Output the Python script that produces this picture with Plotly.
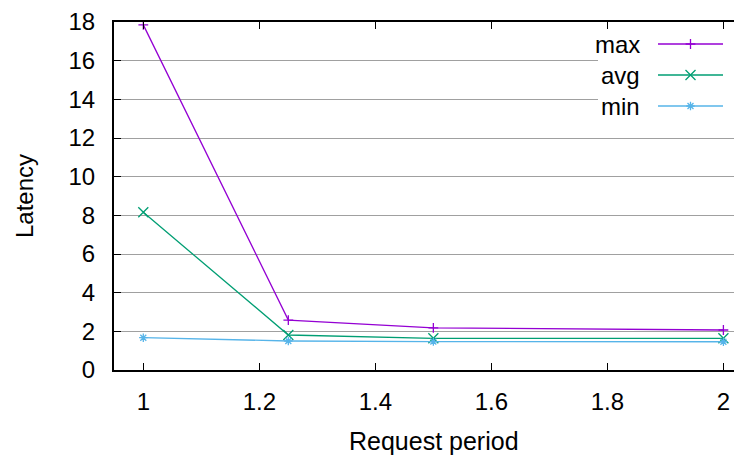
import plotly.graph_objects as go

# ---- data ----
request_period = [1.0, 1.25, 1.5, 2.0]
lat_max = [17.85, 2.58, 2.18, 2.07]
lat_avg = [8.16, 1.81, 1.64, 1.64]
lat_min = [1.67, 1.50, 1.47, 1.46]
series_names = ["max", "avg", "min"]
x_ticks = [1, 1.2, 1.4, 1.6, 1.8, 2]
x_tick_labels = ["1", "1.2", "1.4", "1.6", "1.8", "2"]
y_ticks = [0, 2, 4, 6, 8, 10, 12, 14, 16, 18]

colors = ["#9400D3", "#009E73", "#56B4E9"]
symbols = ["cross-thin-open", "x-thin-open", "asterisk-open"]
msizes = [7, 10, 7]
FONT = "Liberation Sans, Arial, Helvetica, sans-serif"
FS = 24

# page has an 8px body margin: figure pixel = page pixel - 8
OFF = 8
W, H = 742 - OFF, 460 - OFF
L, R, T = 114 - OFF, 0, 22 - OFF
B = H - (370 - OFF)
PW, PH = W - L - R, H - T - B

def px(x):  # page pixel -> plot-area fraction
    return (x - OFF - L) / PW

def py(y):
    return (H - B - (y - OFF)) / PH

fig = go.Figure()
for name, ys, c, s, ms in zip(series_names, [lat_max, lat_avg, lat_min], colors, symbols, msizes):
    fig.add_trace(go.Scatter(
        x=request_period, y=ys, mode="lines+markers", name=name,
        line=dict(color=c, width=1.3),
        marker=dict(symbol=s, size=ms, color=c, line=dict(color=c, width=1.3)),
        showlegend=False, cliponaxis=False,
    ))

# ---- gnuplot-style key (text left, sample right) on an overlay axis ----
box_l, box_r, box_t, box_b = 598, 738, 23, 122
fig.add_trace(go.Scatter(
    x=[px(box_l), px(box_r), px(box_r), px(box_l), px(box_l)],
    y=[py(box_t), py(box_t), py(box_b), py(box_b), py(box_t)],
    fill="toself", fillcolor="white", mode="none",
    xaxis="x2", yaxis="y2", hoverinfo="skip", showlegend=False,
))
row_y = [44, 75, 106]
s_l, s_r, s_m = 658, 723, 690.5
for name, c, s, ms, ry in zip(series_names, colors, symbols, msizes, row_y):
    fig.add_trace(go.Scatter(
        x=[px(s_l), px(s_r)], y=[py(ry), py(ry)], mode="lines",
        line=dict(color=c, width=1.3),
        xaxis="x2", yaxis="y2", hoverinfo="skip", showlegend=False,
    ))
    fig.add_trace(go.Scatter(
        x=[px(s_m)], y=[py(ry)], mode="markers",
        marker=dict(symbol=s, size=ms, color=c, line=dict(color=c, width=1.3)),
        xaxis="x2", yaxis="y2", hoverinfo="skip", showlegend=False,
    ))
    fig.add_annotation(
        x=px(642), y=py(ry), xref="x2", yref="y2", text=name,
        xanchor="right", yanchor="middle", showarrow=False,
        font=dict(family=FONT, size=FS, color="black"),
    )

# axis titles
fig.add_annotation(
    x=px(434), y=py(441), xref="paper", yref="paper",
    text="Request period", showarrow=False, xanchor="center", yanchor="middle",
    font=dict(family=FONT, size=25, color="black"),
)
fig.add_annotation(
    x=px(24), y=py(196), xref="paper", yref="paper",
    text="Latency", showarrow=False, textangle=-90, xanchor="center", yanchor="middle",
    font=dict(family=FONT, size=FS, color="black"),
)

axis_common = dict(
    showline=True, linecolor="black", linewidth=2,
    ticks="inside", ticklen=7, tickwidth=1.2, tickcolor="black",
    tickfont=dict(family=FONT, size=FS, color="black"),
    zeroline=False, automargin=False,
)

fig.update_layout(
    width=W, height=H,
    margin=dict(l=L, r=R, t=T, b=B, autoexpand=False),
    paper_bgcolor="white", plot_bgcolor="white",
    font=dict(family=FONT, size=FS, color="black"),
    xaxis=dict(
        range=[0.9495, 1 + (742 - 143.4) / 580],
        tickvals=x_ticks, ticktext=x_tick_labels,
        showgrid=False, mirror="ticks",
        ticklabelstandoff=9,
        **axis_common,
    ),
    yaxis=dict(
        range=[0, 18], tickvals=y_ticks,
        showgrid=True, gridcolor="#a0a0a0", gridwidth=1,
        ticklabelstandoff=12,
        **axis_common,
    ),
    xaxis2=dict(overlaying="x", range=[0, 1], visible=False, fixedrange=True),
    yaxis2=dict(overlaying="y", range=[0, 1], visible=False, fixedrange=True),
)

fig.write_html("out.html")
